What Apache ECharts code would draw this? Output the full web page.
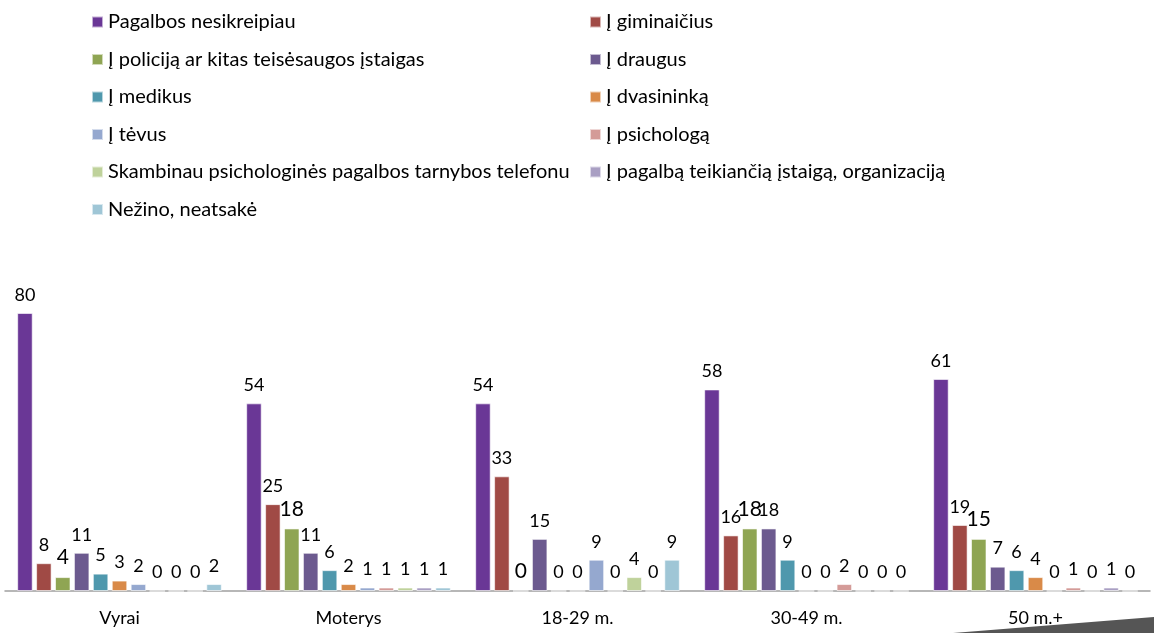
<!DOCTYPE html>
<html>
<head>
<meta charset="utf-8">
<script src="https://cdn.jsdelivr.net/npm/echarts@6/dist/echarts.min.js"></script>
<style>html,body{margin:0;padding:0;background:#fff;}#c{width:1154px;height:633px;}</style>
</head>
<body>
<div id="c"></div>
<script>
const categories = ['Vyrai', 'Moterys', '18-29 m.', '30-49 m.', '50 m.+'];
const seriesNames = [
  'Pagalbos nesikreipiau',
  'Į giminaičius',
  'Į policiją ar kitas teisėsaugos įstaigas',
  'Į draugus',
  'Į medikus',
  'Į dvasininką',
  'Į tėvus',
  'Į psichologą',
  'Skambinau psichologinės pagalbos tarnybos telefonu',
  'Į pagalbą teikiančią įstaigą, organizaciją',
  'Nežino, neatsakė'
];
const colors = ['#6a3796', '#a04a45', '#8fa553', '#6c5a8f', '#4f98ad', '#d98a48', '#95a8cf', '#d49b98', '#bfd29b', '#a99fc3', '#9fc6d6'];
const nesikreipiau = [80, 54, 54, 58, 61];
const giminaicius = [8, 25, 33, 16, 19];
const policija = [4, 18, 0, 18, 15];
const draugus = [11, 11, 15, 18, 7];
const medikus = [5, 6, 0, 9, 6];
const dvasininka = [3, 2, 0, 0, 4];
const tevus = [2, 1, 9, 0, 0];
const psichologa = [0, 1, 0, 2, 1];
const telefonu = [0, 1, 4, 0, 0];
const organizacija = [0, 1, 0, 0, 1];
const nezino = [2, 1, 9, 0, 0];
const values = [nesikreipiau, giminaicius, policija, draugus, medikus, dvasininka, tevus, psichologa, telefonu, organizacija, nezino];

const FONT = 'Lato, "Open Sans", sans-serif';
const series = seriesNames.map((name, i) => ({
  name: name,
  type: 'bar',
  data: values[i],
  barWidth: 15.5,
  barGap: '22%',
  itemStyle: { color: colors[i], borderColor: 'rgba(255,255,255,0.6)', borderWidth: 1 },
  label: {
    show: true,
    position: 'top',
    distance: 9,
    color: '#000',
    fontFamily: FONT,
    fontSize: i === 2 ? 21 : 18
  }
}));

const chart = echarts.init(document.getElementById('c'));
const legendText = { color: '#000', fontFamily: FONT, fontSize: 20, lineHeight: 20 };
chart.setOption({
  animation: false,
  color: colors,
  legend: [
    { left: 86, top: 7, orient: 'vertical', itemWidth: 11, itemHeight: 11, itemGap: 17.5, icon: 'rect',
      data: [0, 2, 4, 6, 8, 10].map(i => seriesNames[i]), textStyle: legendText },
    { left: 584, top: 7, orient: 'vertical', itemWidth: 11, itemHeight: 11, itemGap: 17.5, icon: 'rect',
      data: [1, 3, 5, 7, 9].map(i => seriesNames[i]), textStyle: legendText }
  ],
  grid: { left: 5, right: 4, top: 243.5, bottom: 42, containLabel: false },
  xAxis: {
    type: 'category',
    data: categories,
    axisLine: { lineStyle: { color: '#a0a0a0', width: 1.5 } },
    axisTick: { show: false },
    axisLabel: { color: '#000', fontFamily: FONT, fontSize: 18, margin: 18 }
  },
  yAxis: { type: 'value', min: 0, max: 100, show: false, splitLine: { show: false } },
  series: series,
  graphic: [{
    type: 'polygon',
    z: 100,
    shape: { points: [[953, 633], [1154, 617], [1154, 633]] },
    style: { fill: '#555555' }
  }]
});
</script>
</body>
</html>
